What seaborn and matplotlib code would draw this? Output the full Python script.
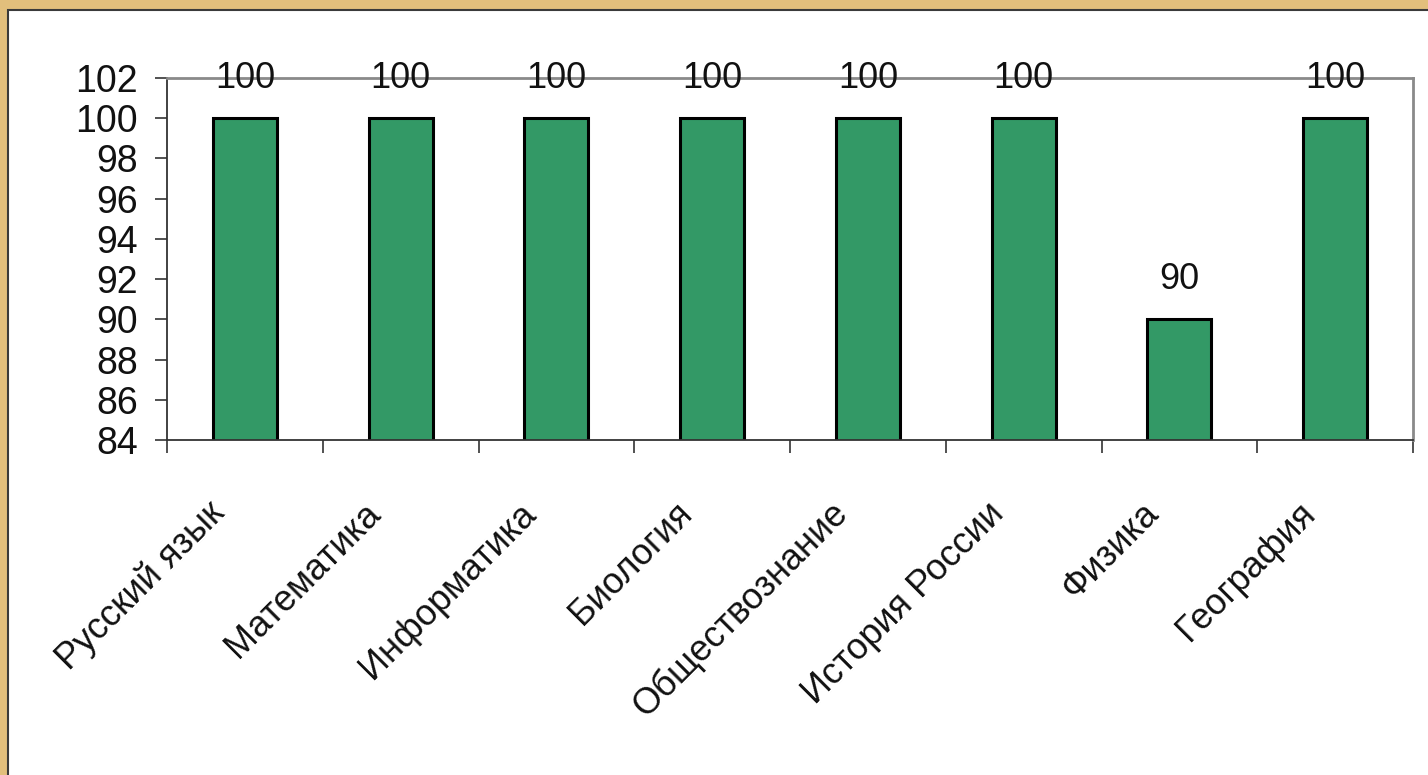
import matplotlib
matplotlib.use("Agg")
import matplotlib.pyplot as plt
import seaborn as sns
import pandas as pd
import numpy as np
from matplotlib.patches import Rectangle
from matplotlib.ticker import FixedLocator
from matplotlib.transforms import ScaledTranslation

subjects = ["Русский язык", "Математика", "Информатика", "Биология",
            "Обществознание", "История России", "Физика", "География"]
values = [100, 100, 100, 100, 100, 100, 90, 100]
y_ticks = [84, 86, 88, 90, 92, 94, 96, 98, 100, 102]

df = pd.DataFrame({"subject": subjects, "value": values})

sns.set_style("white")
plt.rcParams["font.family"] = ["Liberation Sans", "DejaVu Sans"]

fig = plt.figure(figsize=(14.28, 7.75), dpi=100)
fig.patch.set_facecolor("#e2bf7c")
# white panel
fig.patches.append(Rectangle((8 / 1428, -0.01), 1.02, 1 - 10 / 775 + 0.01,
                             transform=fig.transFigure, facecolor="white",
                             edgecolor="#3a3a3a", linewidth=1.5, zorder=-10))

ax = fig.add_axes([167 / 1428, 1 - 440 / 775, (1413 - 167) / 1428, (440 - 78) / 775])
ax.set_zorder(5)
ax.set_facecolor("white")

sns.barplot(data=df, x="subject", y="value", ax=ax, color="#339966",
            saturation=1, width=0.41, edgecolor="black", linewidth=2.2)

ax.set_ylim(84, 102)
ax.set_xlim(-0.5, len(subjects) - 0.5)
ax.set_yticks(y_ticks)
ax.set_yticklabels([str(v) for v in y_ticks], fontsize=27, color="#111111")
ax.set_xlabel("")
ax.set_ylabel("")

# category labels at centres (no tick mark), boundary tick marks as minor ticks
ax.set_xticks(range(len(subjects)))
ax.set_xticklabels(subjects, fontsize=26, rotation=45, ha="right", va="bottom",
                   rotation_mode="anchor", color="#111111")
ax.tick_params(axis="x", which="major", length=0, pad=58)
shift = ScaledTranslation(-13 / 100, 0, fig.dpi_scale_trans)
for lbl in ax.get_xticklabels():
    lbl.set_transform(lbl.get_transform() + shift)
ax.xaxis.set_minor_locator(FixedLocator(np.arange(-0.5, len(subjects), 1.0)))
ax.tick_params(axis="x", which="minor", length=9.5, width=1.2, color="#333333",
               direction="out", bottom=True)
ax.tick_params(axis="y", length=9, width=1.2, color="#333333", direction="out",
               left=True, pad=12)

for side in ["left", "bottom"]:
    ax.spines[side].set_color("#333333")
    ax.spines[side].set_linewidth(1.3)
for side in ["top", "right"]:
    ax.spines[side].set_color("#8a8a8a")
    ax.spines[side].set_linewidth(2)

for c in ax.containers:
    ax.bar_label(c, labels=[str(v) for v in values], padding=16, fontsize=26,
                 color="#111111", clip_on=False)

fig.savefig("out.png", dpi=100, facecolor=fig.get_facecolor())
